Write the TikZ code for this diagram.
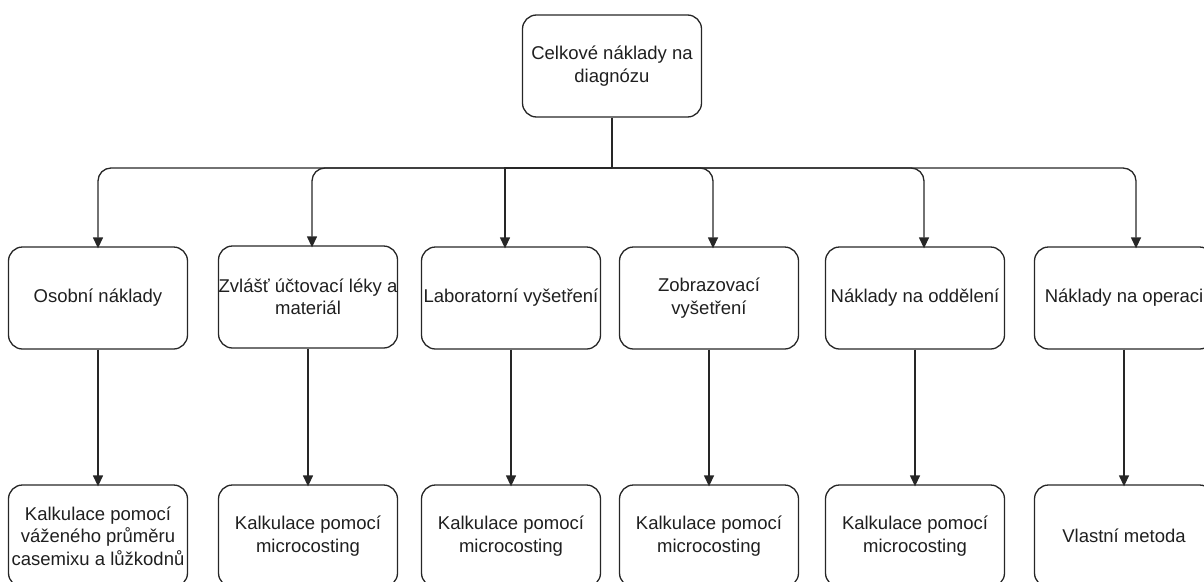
\documentclass[tikz,border=0pt]{standalone}
\usepackage{fontspec}
\setmainfont{Liberation Sans}
\usetikzlibrary{arrows.meta}
\begin{document}
\begin{tikzpicture}[x=1pt,y=-1pt,
  box/.style={draw=black!85, line width=1.3pt, rounded corners=14pt,
    minimum width=179pt, minimum height=102pt, align=center,
    text=black!88, font=\fontsize{18.5}{22.5}\selectfont, inner sep=0pt},
  wire/.style={draw=black!85, line width=1.3pt},
  arr/.style={wire, -{Triangle[length=11pt,width=10pt]}},
  elbow/.style={rounded corners=13pt}]
\useasboundingbox (0,0) rectangle (1204,581);

% root
\node[box] (top) at (612,66) {Celkové náklady na\\diagnózu};

% cost categories
\node[box] (c1) at (98,298)   {Osobní náklady};
\node[box] (c2) at (308,297)  {Zvlášť účtovací léky a\\materiál};
\node[box] (c3) at (511,298)  {Laboratorní vyšetření};
\node[box] (c4) at (709,298)  {Zobrazovací\\vyšetření};
\node[box] (c5) at (915,298)  {Náklady na oddělení};
\node[box] (c6) at (1124,298) {Náklady na operaci};

% calculation methods
\node[box] (m1) at (98,536)   {Kalkulace pomocí\\váženého průměru\\casemixu a lůžkodnů};
\node[box] (m2) at (308,536)  {Kalkulace pomocí\\microcosting};
\node[box] (m3) at (511,536)  {Kalkulace pomocí\\microcosting};
\node[box] (m4) at (709,536)  {Kalkulace pomocí\\microcosting};
\node[box] (m5) at (915,536)  {Kalkulace pomocí\\microcosting};
\node[box] (m6) at (1124,536) {Vlastní metoda};

% distribution bus: stem from the root, then one elbow per category
\coordinate (bus) at (612,168);
\draw[wire] (top.south) -- (bus);

\draw[arr,elbow] (bus) -| ([yshift=-2pt]c1.north);
\draw[arr,elbow] (bus) -| ([xshift=4pt,yshift=-2pt]c2.north);
\draw[arr] (bus) -| ([xshift=-6pt,yshift=-2pt]c3.north);
\draw[arr,elbow] (bus) -| ([xshift=4pt,yshift=-2pt]c4.north);
\draw[arr,elbow] (bus) -| ([xshift=9pt,yshift=-2pt]c5.north);
\draw[arr,elbow] (bus) -| ([xshift=12pt,yshift=-2pt]c6.north);

% category to method
\foreach \i in {1,...,6}
  \draw[arr] (c\i.south) -- ([yshift=-2pt]m\i.north);
\end{tikzpicture}
\end{document}
